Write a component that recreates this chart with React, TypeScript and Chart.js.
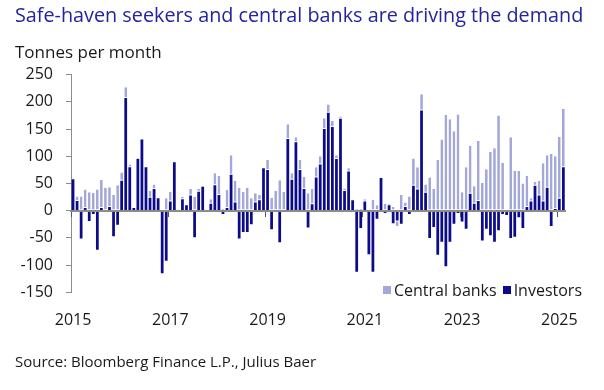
import React, { useEffect, useRef } from 'react';
import { Chart, registerables } from 'chart.js';

Chart.register(...registerables);

const years = [2015, 2016, 2017, 2018, 2019, 2020, 2021, 2022, 2023, 2024, 2025];
const monthNames = ['Jan', 'Feb', 'Mar', 'Apr', 'May', 'Jun', 'Jul', 'Aug', 'Sep', 'Oct', 'Nov', 'Dec'];
const months = years.flatMap((y) => monthNames.map((m) => `${m} ${y}`)).slice(0, 122);

const yearTickLabels = ['2015', '2017', '2019', '2021', '2023', '2025'];

// Tonnes per month, Jan 2015 - Feb 2025
const investors = [
  58, 18, -51, 5, -19, -6, -72, 5, 0, 7, -47, -26,
  55, 207, 80, 5, 95, 131, 80, 24, 40, 23, -115, -92,
  17, 89, 0, 21, 10, 28, -49, 35, 44, 0, 13, 47,
  29, -6, 5, 66, 15, -51, -39, -39, -25, 15, 19, 78,
  75, -34, 0, -58, 0, 132, 57, 126, 75, 40, -31, 12,
  61, 85, 150, 180, 154, 95, 169, 36, 72, 19, -112, -32,
  17, -80, -112, -15, 60, -4, 10, -23, -18, -24, 7, -6,
  46, 39, 184, 33, -50, -30, -81, -57, -102, -57, -24, -4,
  -20, -33, 31, 13, 18, -55, -33, -45, -57, -36, -6, -8,
  -50, -48, -12, -32, 7, 17, 46, 28, 17, 42, -28, 3,
  22, 80,
];

const centralBanks = [
  0, 8, 26, 34, 34, 33, 39, 52, 42, 36, 29, 47,
  15, 20, 5, 0, 2, 0, 0, 12, 8, 0, 0, 23,
  18, 0, 0, 4, 0, 12, 25, 5, 2, 0, 8, 22,
  35, 3, 33, 36, 40, 42, 35, 42, 23, 17, 10, 0,
  18, 24, 36, 56, 35, 27, 12, 9, 18, 22, 32, 28,
  19, 15, 20, 15, 11, 7, 4, 5, 6, 0, 3, 3,
  4, 0, 20, 10, 0, 13, 3, 7, -10, 29, 8, 26,
  50, 41, 30, 15, 61, 40, 93, 131, 176, 168, 146, 177,
  34, 80, 88, 32, 110, 51, 76, 108, 115, 175, 88, 0,
  135, 73, 73, 50, 57, 6, 7, 27, 70, 60, 104, 97,
  114, 107,
];

const DARK = '#0c0c8a';
const LIGHT = '#a3a8d9';
const AXIS_GRAY = '#8c8c8c';
const TEXT = '#1a1a1a';
const FONT = '"Open Sans", "Noto Sans", sans-serif';

const legendItems = [
  { label: 'Central banks', color: LIGHT },
  { label: 'Investors', color: DARK },
];

export default function App() {
  const canvasRef = useRef<HTMLCanvasElement | null>(null);

  useEffect(() => {
    document.body.style.margin = '0';
    const canvas = canvasRef.current;
    if (!canvas) return;
    const chart = new Chart(canvas, {
      type: 'bar',
      data: {
        labels: months,
        datasets: [
          {
            label: 'Investors',
            data: investors,
            backgroundColor: DARK,
            borderWidth: 0,
            stack: 'gold',
            barPercentage: 0.68,
            categoryPercentage: 1,
          },
          {
            label: 'Central banks',
            data: centralBanks,
            backgroundColor: LIGHT,
            borderColor: '#ffffff',
            borderSkipped: false,
            borderWidth: (ctx: any) =>
              (ctx.raw as number) >= 0
                ? { top: 0, right: 0, bottom: 1, left: 0 }
                : { top: 1, right: 0, bottom: 0, left: 0 },
            stack: 'gold',
            barPercentage: 0.68,
            categoryPercentage: 1,
          },
        ],
      },
      options: {
        responsive: false,
        animation: false,
        layout: { padding: { left: 0, top: 74.7, right: 38.6, bottom: 0 } },
        plugins: { legend: { display: false }, tooltip: { enabled: false } },
        scales: {
          x: {
            type: 'category',
            position: 'bottom',
            stacked: true,
            offset: true,
            grid: { display: false },
            border: { display: false },
            ticks: {
              autoSkip: false,
              maxRotation: 0,
              minRotation: 0,
              padding: 11,
              color: TEXT,
              font: { family: FONT, size: 16 },
              callback: (_v: any, i: number) => (i % 24 === 0 ? yearTickLabels[i / 24] : ''),
            },
            afterFit: (s: any) => {
              s.height = 97.7;
            },
          },
          xz: {
            type: 'category',
            position: { y: 0 },
            offset: true,
            grid: {
              display: true,
              offset: true,
              drawOnChartArea: false,
              drawTicks: true,
              tickLength: 5,
              lineWidth: 1,
              color: (c: any) => (c.index % 24 === 0 ? '#555555' : 'rgba(0,0,0,0)'),
              z: 1,
            },
            border: { display: true, color: AXIS_GRAY, width: 2, z: 1 },
            ticks: { display: false },
          },
          y: {
            stacked: true,
            min: -150,
            max: 250,
            ticks: {
              stepSize: 50,
              padding: 13,
              color: TEXT,
              font: { family: FONT, size: 16 },
            },
            grid: {
              drawOnChartArea: false,
              drawTicks: true,
              tickLength: 5,
              tickColor: AXIS_GRAY,
            },
            border: { color: AXIS_GRAY, width: 1 },
            afterFit: (s: any) => {
              s.width = 71;
            },
          },
        },
      } as any,
    });
    return () => chart.destroy();
  }, []);

  return (
    <div style={{ position: 'relative', width: 604, height: 390, background: '#fff', fontFamily: FONT }}>
      <canvas ref={canvasRef} width={604} height={390} style={{ position: 'absolute', left: 0, top: 0 }} />
      <div
        style={{
          position: 'absolute',
          left: 15,
          top: 3,
          fontSize: 19.8,
          lineHeight: '24px',
          color: '#24249e',
          whiteSpace: 'nowrap',
        }}
      >
        Safe-haven seekers and central banks are driving the demand
      </div>
      <div
        style={{
          position: 'absolute',
          left: 15,
          top: 42,
          fontSize: 17,
          lineHeight: '20px',
          color: TEXT,
          whiteSpace: 'nowrap',
        }}
      >
        Tonnes per month
      </div>
      <div
        style={{
          position: 'absolute',
          right: 22,
          top: 280,
          display: 'flex',
          alignItems: 'center',
          fontSize: 16,
          lineHeight: '20px',
          color: TEXT,
          whiteSpace: 'nowrap',
        }}
      >
        {legendItems.map((it, i) => (
          <div key={it.label} style={{ display: 'flex', alignItems: 'center', marginLeft: i === 0 ? 0 : 6 }}>
            <span style={{ display: 'inline-block', width: 8, height: 8, background: it.color, marginRight: 3 }} />
            <span>{it.label}</span>
          </div>
        ))}
      </div>
      <div
        style={{
          position: 'absolute',
          left: 15,
          top: 352,
          fontSize: 15,
          lineHeight: '18px',
          color: TEXT,
          whiteSpace: 'nowrap',
        }}
      >
        Source: Bloomberg Finance L.P., Julius Baer
      </div>
    </div>
  );
}
